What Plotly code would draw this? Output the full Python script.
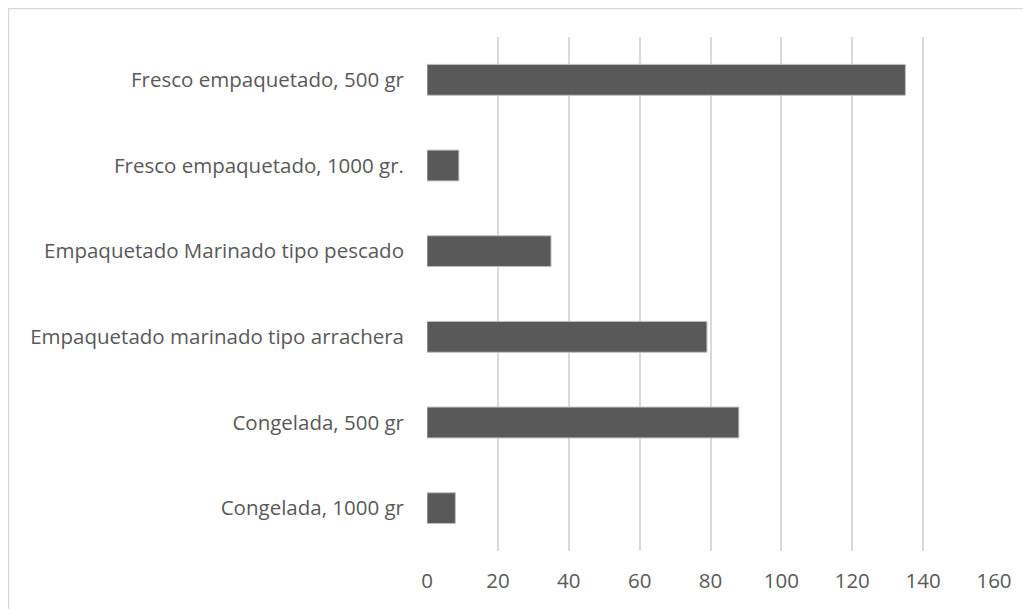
import plotly.graph_objects as go

categories = [
    "Congelada, 1000 gr",
    "Congelada, 500 gr",
    "Empaquetado marinado tipo arrachera",
    "Empaquetado Marinado tipo pescado",
    "Fresco empaquetado, 1000 gr.",
    "Fresco empaquetado, 500 gr",
]
values = [8, 88, 79, 35, 9, 135]
x_ticks = [0, 20, 40, 60, 80, 100, 120, 140, 160]

# page has an 8px body margin; size the figure so it fills the window
W, H = 1023, 601
L, R, T, B = 419, 37, 29, 58
pw, ph = W - L - R, H - T - B

fig = go.Figure(go.Bar(
    x=values, y=categories, orientation="h",
    marker=dict(color="#595959", line=dict(color="#bfbfbf", width=1)),
    width=0.36,
))

font = dict(family="Open Sans", size=20.5, color="#595959")
fig.update_layout(
    width=W, height=H,
    margin=dict(l=L, r=R, t=T, b=B, pad=0),
    paper_bgcolor="white", plot_bgcolor="white",
    showlegend=False, bargap=0.64,
    font=font,
    xaxis=dict(range=[0, 160], tickvals=x_ticks, showgrid=True, gridcolor="#d9d9d9",
               gridwidth=1.5, zeroline=False, showline=False, ticks="",
               tickfont=font, ticklabelstandoff=15, fixedrange=True),
    yaxis=dict(categoryorder="array", categoryarray=categories, showgrid=False,
               zeroline=False, showline=False, ticks="", tickfont=font,
               ticklabelstandoff=22, fixedrange=True),
    shapes=[dict(type="rect", xref="paper", yref="paper",
                 x0=(0.5 - L) / pw, x1=(W + 10 - L) / pw,
                 y0=-(B + 10) / ph, y1=(H - 0.5 - B) / ph,
                 line=dict(color="#d9d9d9", width=1.5), fillcolor="rgba(0,0,0,0)",
                 layer="below")],
)

fig.write_html("out.html")
